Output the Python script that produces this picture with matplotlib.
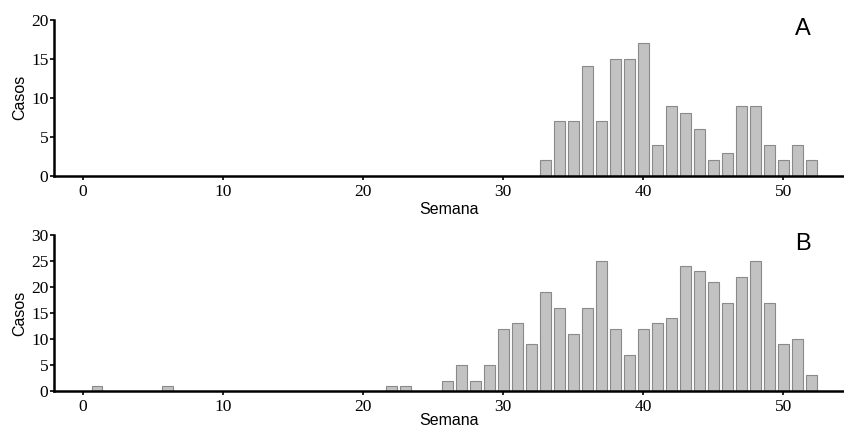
import matplotlib.pyplot as plt
import numpy as np

# weekly case counts (only nonzero weeks listed)
weeks_a = [33, 34, 35, 36, 37, 38, 39, 40, 41, 42, 43, 44, 45, 46, 47, 48, 49, 50, 51, 52]
cases_a = [2, 7, 7, 14, 7, 15, 15, 17, 4, 9, 8, 6, 2, 3, 9, 9, 4, 2, 4, 2]

weeks_b = [1, 6, 22, 23, 26, 27, 28, 29, 30, 31, 32, 33, 34, 35, 36, 37, 38, 39,
           40, 41, 42, 43, 44, 45, 46, 47, 48, 49, 50, 51, 52]
cases_b = [1, 1, 1, 1, 2, 5, 2, 5, 12, 13, 9, 19, 16, 11, 16, 25, 12, 7,
           12, 13, 14, 24, 23, 21, 17, 22, 25, 17, 9, 10, 3]

x_ticks = [0, 10, 20, 30, 40, 50]


def draw_panel(ax, weeks, cases, ymax, label, xpad):
    ax.bar(weeks, cases, width=0.78, color='#c2c2c2', edgecolor='#8a8a8a', linewidth=0.8)
    ax.set_xlim(-2.07, 54.4)
    ax.set_ylim(0, ymax)
    ax.set_yticks(np.arange(0, ymax + 1, 5))
    ax.set_xticks(x_ticks)
    for lab in ax.get_xticklabels() + ax.get_yticklabels():
        lab.set_fontfamily('Liberation Serif')
        lab.set_fontsize(12.5)
    ax.tick_params(axis='y', direction='out', length=3, width=1.2, pad=1)
    ax.tick_params(axis='x', direction='out', length=3, width=1.2, pad=3)
    ax.spines['top'].set_visible(False)
    ax.spines['right'].set_visible(False)
    ax.spines['left'].set_linewidth(1.8)
    ax.spines['bottom'].set_linewidth(1.8)
    ax.set_ylabel('Casos', fontfamily='Liberation Sans', fontsize=11.5, labelpad=3)
    ax.set_xlabel('Semana', fontfamily='Liberation Sans', fontsize=11.5, labelpad=xpad)
    ax.text(0.947, 0.94, label, transform=ax.transAxes, fontfamily='Liberation Sans',
            fontsize=17, ha='center', va='center')


fig = plt.figure(figsize=(8.45, 4.29), dpi=100)
ax_a = fig.add_axes([54 / 845, 1 - 176 / 429, 1 - 54 / 845, 156.5 / 429])
ax_b = fig.add_axes([54 / 845, 1 - 391 / 429, 1 - 54 / 845, 156 / 429])

draw_panel(ax_a, weeks_a, cases_a, 20, 'A', 1)
draw_panel(ax_b, weeks_b, cases_b, 30, 'B', -1.5)

fig.savefig('out.png', dpi=100)
